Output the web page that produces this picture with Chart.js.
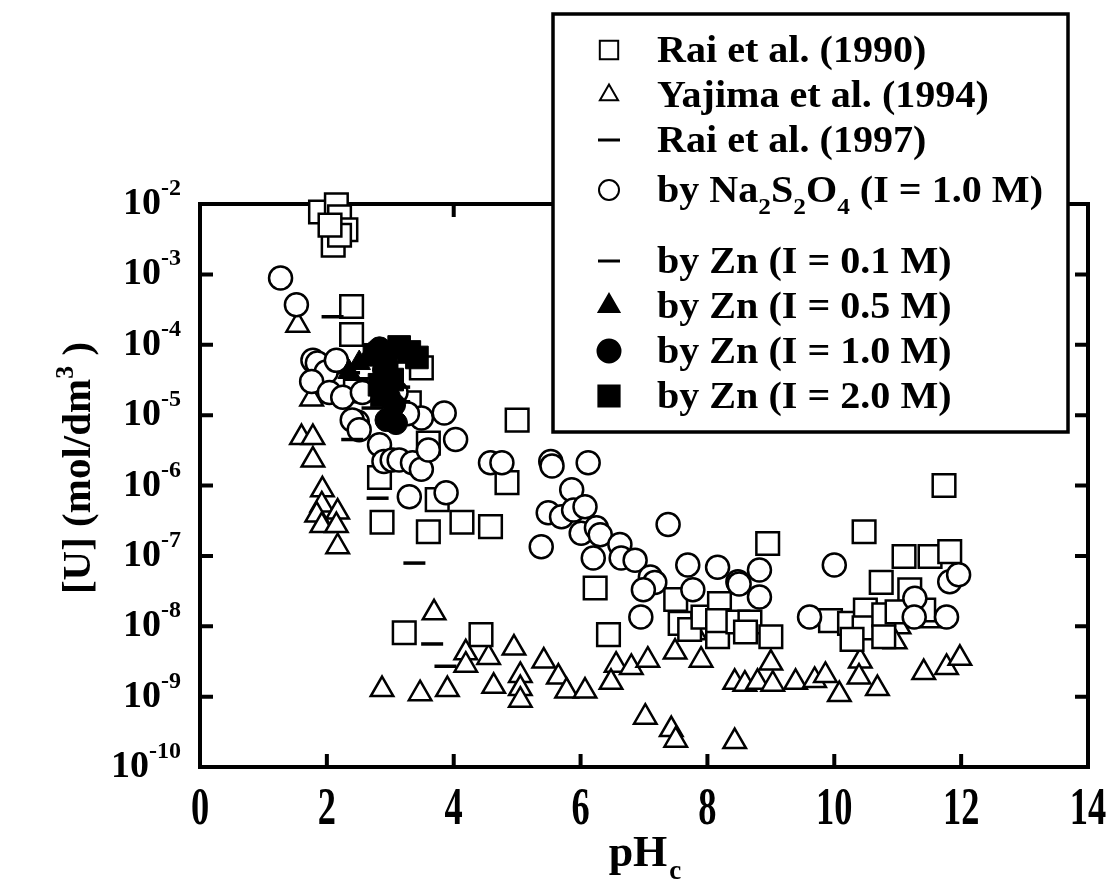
<!DOCTYPE html>
<html>
<head>
<meta charset="utf-8">
<script src="https://cdn.jsdelivr.net/npm/chart.js@4.4.0/dist/chart.umd.min.js"></script>
<style>
  body { margin: 0; background: #fff; }
</style>
</head>
<body>
<canvas id="uChart" width="1111" height="881"></canvas>
<script>
// Uranium solubility vs. pHc, one pair of arrays per data set
const rai1990_pH = [1.9, 2.15, 2.2, 2.3, 2.1, 2.2, 2.05, 2.39, 2.39, 3.49, 2.56, 2.45, 3.3, 3.6,
  2.83, 2.87, 3.6, 4.13, 4.58, 3.74, 4.84, 5.0, 3.22, 4.43, 6.23, 6.44,
  7.5, 7.57, 7.72, 7.93, 8.19, 8.16, 8.16, 8.48, 8.67, 8.6, 9.0, 8.95,
  11.73, 10.47, 11.1, 11.51, 11.82, 10.74, 11.19, 9.94, 10.24, 10.49, 10.47, 10.28, 10.78, 10.78, 10.99, 11.41];
const rai1990_U = [7.7e-3, 9.7e-3, 6.6e-3, 4.3e-3, 2.6e-3, 3.6e-3, 5.0e-3, 3.5e-4, 1.4e-4, 4.7e-5, 2.3e-5, 2.2e-5, 1.5e-5, 4.0e-6,
  1.3e-6, 3.0e-7, 2.2e-7, 3.0e-7, 2.6e-7, 6.3e-7, 1.1e-6, 8.5e-6, 8.1e-9, 7.6e-9, 3.5e-8, 7.6e-9,
  2.4e-8, 1.1e-8, 9.0e-9, 1.35e-8, 2.1e-8, 7.1e-9, 1.2e-8, 1.15e-8, 1.15e-8, 8.3e-9, 7.1e-9, 1.5e-7,
  1.0e-6, 2.2e-7, 9.8e-8, 9.8e-8, 1.15e-7, 4.2e-8, 3.3e-8, 1.2e-8, 1.1e-8, 1.7e-8, 9.5e-9, 6.5e-9, 1.45e-8, 7.1e-9, 1.6e-8, 1.7e-8];

const yajima1994_pH = [1.54, 1.76, 1.6, 1.78, 1.78, 1.93, 1.92, 1.84, 2.17, 1.92, 2.15, 2.17, 3.69, 2.87, 3.47, 3.9,
  4.19, 4.19, 4.55, 4.63, 4.95, 5.05, 5.05, 5.05, 5.42, 5.65, 5.78, 6.07, 6.56, 6.48, 6.8, 7.06, 7.49, 7.8, 7.9,
  7.02, 7.43, 7.5, 8.43, 8.43, 8.59, 8.79, 9.0, 9.03, 9.39, 9.69, 9.86, 10.08, 10.41, 10.39, 10.68,
  11.02, 10.96, 11.54, 11.41, 11.77, 11.98];
const yajima1994_U = [1.9e-4, 1.7e-5, 4.8e-6, 4.8e-6, 2.3e-6, 8.7e-7, 5.3e-7, 3.8e-7, 4.2e-7, 2.7e-7, 2.7e-7, 1.35e-7, 1.55e-8, 1.26e-9, 1.1e-9, 1.26e-9,
  4.2e-9, 2.8e-9, 3.6e-9, 1.4e-9, 4.9e-9, 2.0e-9, 1.3e-9, 8.9e-10, 3.2e-9, 1.9e-9, 1.2e-9, 1.2e-9, 2.8e-9, 1.6e-9, 2.6e-9, 3.3e-9, 4.3e-9, 8.1e-9, 3.3e-9,
  5.1e-10, 3.4e-10, 2.4e-10, 2.3e-10, 1.6e-9, 1.5e-9, 1.6e-9, 3.0e-9, 1.5e-9, 1.6e-9, 1.7e-9, 2.0e-9, 1.07e-9, 3.2e-9, 1.9e-9, 1.3e-9,
  9.8e-9, 6.0e-9, 1.2e-8, 2.2e-9, 2.6e-9, 3.5e-9];

const rai1997_pH = [2.09, 2.4, 2.8, 3.38, 3.66, 3.87];
const rai1997_U = [2.5e-4, 4.5e-6, 6.6e-7, 7.9e-8, 5.6e-9, 2.7e-9];

const dithionite_pH = [1.27, 1.52, 1.78, 1.85, 1.99, 2.15, 1.76, 2.04, 2.25, 2.48, 2.4, 2.51, 2.83, 2.9, 3.03, 3.14,
  3.35, 3.49, 3.6, 3.49, 3.85, 4.03, 4.58, 3.09, 2.56, 3.27, 3.3, 3.88,
  4.76, 5.53, 5.55, 6.12, 5.86, 5.49, 5.7, 5.89, 6.07, 5.38, 6.01, 6.25, 6.31, 6.2, 6.62, 6.64, 6.86,
  7.1, 7.17, 6.99, 6.95, 7.38, 7.69, 7.77, 8.16, 8.48, 8.5, 8.82, 8.82,
  9.61, 10.0, 11.27, 11.26, 11.77, 11.82, 11.96];
const dithionite_U = [8.9e-4, 3.7e-4, 6.0e-5, 5.5e-5, 4.1e-5, 6.0e-5, 3.0e-5, 2.1e-5, 1.8e-5, 8.0e-6, 8.5e-6, 6.2e-6, 3.8e-6, 2.2e-6, 2.3e-6, 2.3e-6,
  2.1e-6, 1.7e-6, 3.2e-6, 9.1e-6, 1.07e-5, 4.5e-6, 2.1e-6, 2.1e-5, 2.1e-5, 1.05e-5, 6.9e-7, 7.9e-7,
  2.1e-6, 2.2e-6, 1.9e-6, 2.1e-6, 8.7e-7, 4.1e-7, 3.6e-7, 4.5e-7, 5.0e-7, 1.35e-7, 2.1e-7, 2.5e-7, 2.0e-7, 9.3e-8, 1.45e-7, 9.3e-8, 8.7e-8,
  5.0e-8, 4.2e-8, 3.3e-8, 1.35e-8, 2.8e-7, 7.4e-8, 3.3e-8, 6.9e-8, 4.3e-8, 4.0e-8, 6.3e-8, 2.6e-8,
  1.35e-8, 7.4e-8, 2.5e-8, 1.35e-8, 1.35e-8, 4.3e-8, 5.4e-8];

const zn01_pH = [2.35, 3.14, 3.14, 2.72];
const zn01_U = [4.0e-5, 2.5e-5, 1.55e-5, 1.26e-5];

const zn05_pH = [2.35, 2.51, 2.67];
const zn05_U = [4.1e-5, 5.5e-5, 7.2e-5];

const zn10_pH = [2.83, 2.9, 2.98, 3.06, 2.94, 3.09];
const zn10_U = [8.9e-5, 4.4e-5, 1.8e-5, 1.4e-5, 8.5e-6, 7.7e-6];

const zn20_pH = [3.14, 2.94, 2.94, 2.83, 3.3, 2.75, 3.03, 2.87, 3.42];
const zn20_U = [9.3e-5, 6.0e-5, 4.0e-5, 2.7e-5, 7.9e-5, 7.2e-5, 3.2e-5, 1.9e-5, 6.6e-5];

const xTicks = [0, 2, 4, 6, 8, 10, 12, 14];
const yExponents = [-2, -3, -4, -5, -6, -7, -8, -9, -10];

const FONT = '"Liberation Serif", "Times New Roman", serif';

function pts(xs, ys) {
  return xs.map((x, i) => ({ x: x, y: ys[i] }));
}

function openSet(label, xs, ys, style, radius, order) {
  return {
    label: label, data: pts(xs, ys), pointStyle: style, pointRadius: radius,
    backgroundColor: '#fff', borderColor: '#000', borderWidth: 2.5, clip: false, order: order
  };
}

function filledSet(label, xs, ys, style, radius, order) {
  return {
    label: label, data: pts(xs, ys), pointStyle: style, pointRadius: radius,
    backgroundColor: '#000', borderColor: '#000', borderWidth: 1, clip: false, order: order
  };
}

function dashSet(label, xs, ys, order) {
  return {
    label: label, data: pts(xs, ys), pointStyle: 'line', pointRadius: 11,
    backgroundColor: '#000', borderColor: '#000', borderWidth: 3.5, clip: false, order: order
  };
}

const datasets = [
  openSet('Rai et al. (1990)', rai1990_pH, rai1990_U, 'rect', 16, 5),
  openSet('Yajima et al. (1994)', yajima1994_pH, yajima1994_U, 'triangle', 13, 6),
  dashSet('Rai et al. (1997)', rai1997_pH, rai1997_U, 3),
  openSet('by Na2S2O4 (I = 1.0 M)', dithionite_pH, dithionite_U, 'circle', 11.5, 4),
  dashSet('by Zn (I = 0.1 M)', zn01_pH, zn01_U, 3),
  filledSet('by Zn (I = 0.5 M)', zn05_pH, zn05_U, 'triangle', 13, 2),
  filledSet('by Zn (I = 1.0 M)', zn10_pH, zn10_U, 'circle', 11.5, 1),
  filledSet('by Zn (I = 2.0 M)', zn20_pH, zn20_U, 'rect', 16, 0)
];

// text runs with optional sub/superscript pieces; hs stretches glyphs horizontally
function runWidth(ctx, parts, size, hs) {
  let w = 0;
  parts.forEach(p => {
    ctx.font = 'bold ' + (p.s ? Math.round(size * 0.64) : size) + 'px ' + FONT;
    w += ctx.measureText(p.t).width;
  });
  return w * (hs || 1);
}

function drawRun(ctx, parts, x, y, size, hs) {
  hs = hs || 1;
  ctx.save();
  ctx.translate(x, y);
  ctx.scale(hs, 1);
  ctx.textAlign = 'left';
  ctx.textBaseline = 'alphabetic';
  let cx = 0;
  parts.forEach(p => {
    const sz = p.s ? Math.round(size * 0.64) : size;
    ctx.font = 'bold ' + sz + 'px ' + FONT;
    let dy = 0;
    if (p.s === 'sub') dy = size * 0.32;
    if (p.s === 'sup') dy = -size * 0.42;
    ctx.fillText(p.t, cx, dy);
    cx += ctx.measureText(p.t).width;
  });
  ctx.restore();
  return x + cx * hs;
}

const frameAxes = {
  id: 'frameAxes',
  beforeDatasetsDraw(chart) {
    const ctx = chart.ctx;
    const a = chart.chartArea;
    const xs = chart.scales.x, ys = chart.scales.y;
    ctx.save();
    ctx.strokeStyle = '#000';
    ctx.fillStyle = '#000';
    ctx.lineWidth = 4;
    ctx.strokeRect(a.left, a.top, a.right - a.left, a.bottom - a.top);

    // inward ticks on all four sides
    const tl = 13;
    ctx.beginPath();
    xTicks.forEach(v => {
      const px = xs.getPixelForValue(v);
      ctx.moveTo(px, a.bottom); ctx.lineTo(px, a.bottom - tl);
      ctx.moveTo(px, a.top); ctx.lineTo(px, a.top + tl);
    });
    yExponents.forEach(e => {
      const py = ys.getPixelForValue(Math.pow(10, e));
      ctx.moveTo(a.left, py); ctx.lineTo(a.left + tl, py);
      ctx.moveTo(a.right, py); ctx.lineTo(a.right - tl, py);
    });
    ctx.stroke();

    // x tick labels (tall, narrow digits)
    xTicks.forEach(v => {
      const parts = [{ t: String(v) }];
      const w = runWidth(ctx, parts, 52, 0.7);
      drawRun(ctx, parts, xs.getPixelForValue(v) - w / 2, a.bottom + 57, 52, 0.7);
    });

    // y tick labels 10^n
    yExponents.forEach(e => {
      const py = ys.getPixelForValue(Math.pow(10, e));
      ctx.font = 'bold 24px ' + FONT;
      const ew = ctx.measureText(String(e)).width;
      ctx.font = 'bold 38px ' + FONT;
      const bw = ctx.measureText('10').width;
      const right = a.left - 19;
      ctx.textAlign = 'left';
      ctx.textBaseline = 'alphabetic';
      ctx.fillText('10', right - ew - bw, py + 10);
      ctx.font = 'bold 24px ' + FONT;
      ctx.fillText(String(e), right - ew, py - 9);
    });

    // x title
    ctx.font = 'bold 44px ' + FONT;
    const pw = ctx.measureText('pH').width;
    const xMid = (a.left + a.right) / 2;
    ctx.fillText('pH', xMid - pw / 2 - 6, a.bottom + 99);
    ctx.font = 'bold 27px ' + FONT;
    ctx.fillText('c', xMid + pw / 2 - 4, a.bottom + 112);

    // y title, rotated
    const yt = [{ t: '[U] (mol/dm' }, { t: '3', s: 'sup' }, { t: ' )' }];
    ctx.translate(90, 468);
    ctx.rotate(-Math.PI / 2);
    const yw = runWidth(ctx, yt, 41);
    drawRun(ctx, yt, -yw / 2, 0, 41);
    ctx.restore();
  }
};

const legendRows = [
  { parts: [{ t: 'Rai et al. (1990)' }], y: 50, style: 'rect', r: 13, fill: false },
  { parts: [{ t: 'Yajima et al. (1994)' }], y: 95, style: 'triangle', r: 10.5, fill: false },
  { parts: [{ t: 'Rai et al. (1997)' }], y: 140, style: 'line', r: 11, fill: true },
  { parts: [{ t: 'by Na' }, { t: '2', s: 'sub' }, { t: 'S' }, { t: '2', s: 'sub' }, { t: 'O' }, { t: '4', s: 'sub' }, { t: ' (I = 1.0 M)' }], y: 190, style: 'circle', r: 10, fill: false },
  { parts: [{ t: 'by Zn (I = 0.1 M)' }], y: 261, style: 'line', r: 11, fill: true },
  { parts: [{ t: 'by Zn (I = 0.5 M)' }], y: 306, style: 'triangle', r: 12, fill: true },
  { parts: [{ t: 'by Zn (I = 1.0 M)' }], y: 351, style: 'circle', r: 11.5, fill: true },
  { parts: [{ t: 'by Zn (I = 2.0 M)' }], y: 396, style: 'rect', r: 15, fill: true }
];

const legendBox = {
  id: 'legendBox',
  afterDatasetsDraw(chart) {
    const ctx = chart.ctx;
    ctx.save();
    ctx.fillStyle = '#fff';
    ctx.fillRect(553, 14, 515, 418);
    ctx.strokeStyle = '#000';
    ctx.lineWidth = 3.5;
    ctx.strokeRect(553, 14, 515, 418);
    legendRows.forEach(row => {
      ctx.fillStyle = row.fill ? '#000' : '#fff';
      ctx.strokeStyle = '#000';
      ctx.lineWidth = row.style === 'line' ? 3 : 2;
      Chart.helpers.drawPoint(ctx, { pointStyle: row.style, radius: row.r, borderWidth: ctx.lineWidth, rotation: 0 }, 609, row.y);
      ctx.fillStyle = '#000';
      drawRun(ctx, row.parts, 657, row.y + 12, 38, 1.055);
    });
    ctx.restore();
  }
};

new Chart(document.getElementById('uChart'), {
  type: 'scatter',
  data: { datasets: datasets },
  options: {
    responsive: false,
    animation: false,
    events: [],
    layout: { padding: { left: 200, top: 204, right: 23, bottom: 114 } },
    scales: {
      x: { type: 'linear', min: 0, max: 14, display: false },
      y: { type: 'logarithmic', min: 1e-10, max: 1e-2, display: false }
    },
    plugins: { legend: { display: false }, tooltip: { enabled: false } }
  },
  plugins: [frameAxes, legendBox]
});
</script>
</body>
</html>
